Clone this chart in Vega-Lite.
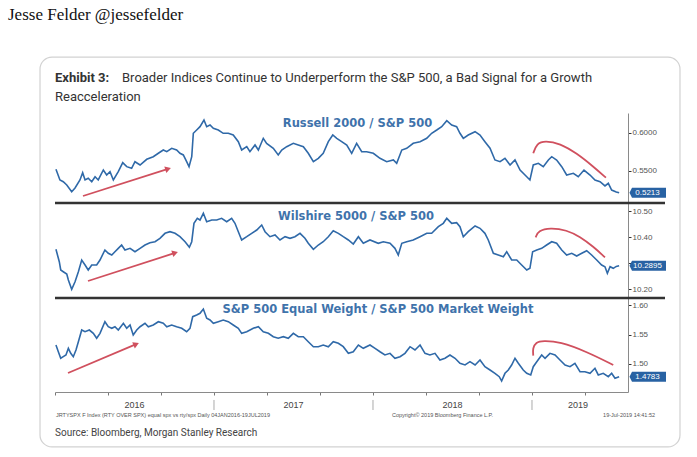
{
"$schema": "https://vega.github.io/schema/vega-lite/v6.json",
"width": 697, "height": 457, "autosize": {"type": "none"}, "padding": 0,
"background": "white",
"config": {"view": {"stroke": null}, "axis": {"grid": false}},
"datasets": {
"r2k": [{"year":2016.006,"ratio":0.5522},{"year":2016.031,"ratio":0.5382},{"year":2016.052,"ratio":0.5359},{"year":2016.074,"ratio":0.5316},{"year":2016.105,"ratio":0.5228},{"year":2016.126,"ratio":0.5276},{"year":2016.157,"ratio":0.5382},{"year":2016.174,"ratio":0.5478},{"year":2016.189,"ratio":0.5382},{"year":2016.209,"ratio":0.5404},{"year":2016.231,"ratio":0.5359},{"year":2016.252,"ratio":0.5425},{"year":2016.272,"ratio":0.5382},{"year":2016.304,"ratio":0.5513},{"year":2016.325,"ratio":0.5447},{"year":2016.346,"ratio":0.5491},{"year":2016.367,"ratio":0.5382},{"year":2016.398,"ratio":0.5491},{"year":2016.426,"ratio":0.5609},{"year":2016.451,"ratio":0.5557},{"year":2016.482,"ratio":0.5536},{"year":2016.503,"ratio":0.5622},{"year":2016.535,"ratio":0.5579},{"year":2016.577,"ratio":0.5654},{"year":2016.618,"ratio":0.5688},{"year":2016.650,"ratio":0.5733},{"year":2016.681,"ratio":0.5776},{"year":2016.703,"ratio":0.5754},{"year":2016.734,"ratio":0.5799},{"year":2016.765,"ratio":0.5776},{"year":2016.786,"ratio":0.5733},{"year":2016.807,"ratio":0.5711},{"year":2016.828,"ratio":0.5622},{"year":2016.843,"ratio":0.5557},{"year":2016.860,"ratio":0.5688},{"year":2016.870,"ratio":0.5996},{"year":2016.891,"ratio":0.6039},{"year":2016.912,"ratio":0.6083},{"year":2016.937,"ratio":0.6171},{"year":2016.954,"ratio":0.6083},{"year":2016.975,"ratio":0.6105},{"year":2016.996,"ratio":0.6062},{"year":2017.027,"ratio":0.6039},{"year":2017.058,"ratio":0.5996},{"year":2017.090,"ratio":0.5996},{"year":2017.121,"ratio":0.5974},{"year":2017.153,"ratio":0.5886},{"year":2017.174,"ratio":0.5776},{"year":2017.206,"ratio":0.5820},{"year":2017.226,"ratio":0.5754},{"year":2017.258,"ratio":0.5842},{"year":2017.279,"ratio":0.5776},{"year":2017.310,"ratio":0.5930},{"year":2017.331,"ratio":0.5864},{"year":2017.373,"ratio":0.5799},{"year":2017.404,"ratio":0.5711},{"year":2017.426,"ratio":0.5776},{"year":2017.457,"ratio":0.5820},{"year":2017.499,"ratio":0.5864},{"year":2017.530,"ratio":0.5842},{"year":2017.562,"ratio":0.5820},{"year":2017.593,"ratio":0.5733},{"year":2017.625,"ratio":0.5622},{"year":2017.656,"ratio":0.5667},{"year":2017.687,"ratio":0.5733},{"year":2017.719,"ratio":0.5886},{"year":2017.747,"ratio":0.5974},{"year":2017.772,"ratio":0.5930},{"year":2017.803,"ratio":0.5886},{"year":2017.835,"ratio":0.5842},{"year":2017.866,"ratio":0.5733},{"year":2017.897,"ratio":0.5864},{"year":2017.929,"ratio":0.5754},{"year":2017.960,"ratio":0.5754},{"year":2018.002,"ratio":0.5733},{"year":2018.044,"ratio":0.5667},{"year":2018.086,"ratio":0.5622},{"year":2018.128,"ratio":0.5645},{"year":2018.149,"ratio":0.5601},{"year":2018.181,"ratio":0.5776},{"year":2018.212,"ratio":0.5799},{"year":2018.253,"ratio":0.5864},{"year":2018.296,"ratio":0.5886},{"year":2018.338,"ratio":0.5930},{"year":2018.369,"ratio":0.5996},{"year":2018.401,"ratio":0.6039},{"year":2018.432,"ratio":0.6083},{"year":2018.464,"ratio":0.6162},{"year":2018.495,"ratio":0.6105},{"year":2018.526,"ratio":0.6083},{"year":2018.547,"ratio":0.5996},{"year":2018.568,"ratio":0.5930},{"year":2018.599,"ratio":0.5974},{"year":2018.642,"ratio":0.6017},{"year":2018.673,"ratio":0.5974},{"year":2018.704,"ratio":0.5886},{"year":2018.736,"ratio":0.5799},{"year":2018.767,"ratio":0.5645},{"year":2018.799,"ratio":0.5622},{"year":2018.830,"ratio":0.5667},{"year":2018.862,"ratio":0.5579},{"year":2018.893,"ratio":0.5645},{"year":2018.925,"ratio":0.5513},{"year":2018.967,"ratio":0.5425},{"year":2018.987,"ratio":0.5382},{"year":2019.008,"ratio":0.5579},{"year":2019.040,"ratio":0.5601},{"year":2019.071,"ratio":0.5557},{"year":2019.103,"ratio":0.5645},{"year":2019.124,"ratio":0.5688},{"year":2019.155,"ratio":0.5645},{"year":2019.187,"ratio":0.5557},{"year":2019.218,"ratio":0.5447},{"year":2019.260,"ratio":0.5470},{"year":2019.291,"ratio":0.5425},{"year":2019.327,"ratio":0.5513},{"year":2019.365,"ratio":0.5447},{"year":2019.396,"ratio":0.5382},{"year":2019.428,"ratio":0.5359},{"year":2019.459,"ratio":0.5303},{"year":2019.480,"ratio":0.5338},{"year":2019.501,"ratio":0.5250},{"year":2019.530,"ratio":0.5225},{"year":2019.548,"ratio":0.5213}],
"w5k": [{"year":2016.006,"ratio":10.3527},{"year":2016.027,"ratio":10.305},{"year":2016.036,"ratio":10.2731},{"year":2016.052,"ratio":10.2665},{"year":2016.074,"ratio":10.2577},{"year":2016.084,"ratio":10.2346},{"year":2016.105,"ratio":10.1988},{"year":2016.126,"ratio":10.2281},{"year":2016.147,"ratio":10.2665},{"year":2016.168,"ratio":10.3115},{"year":2016.189,"ratio":10.2923},{"year":2016.209,"ratio":10.2731},{"year":2016.231,"ratio":10.2923},{"year":2016.262,"ratio":10.2923},{"year":2016.283,"ratio":10.3115},{"year":2016.314,"ratio":10.35},{"year":2016.335,"ratio":10.3373},{"year":2016.357,"ratio":10.3308},{"year":2016.377,"ratio":10.3435},{"year":2016.398,"ratio":10.3565},{"year":2016.419,"ratio":10.3692},{"year":2016.440,"ratio":10.35},{"year":2016.472,"ratio":10.3565},{"year":2016.503,"ratio":10.3435},{"year":2016.535,"ratio":10.3565},{"year":2016.566,"ratio":10.3692},{"year":2016.597,"ratio":10.3781},{"year":2016.629,"ratio":10.3819},{"year":2016.660,"ratio":10.395},{"year":2016.692,"ratio":10.4142},{"year":2016.723,"ratio":10.4204},{"year":2016.755,"ratio":10.4142},{"year":2016.786,"ratio":10.4012},{"year":2016.818,"ratio":10.3819},{"year":2016.845,"ratio":10.3604},{"year":2016.860,"ratio":10.3819},{"year":2016.874,"ratio":10.4527},{"year":2016.895,"ratio":10.4719},{"year":2016.912,"ratio":10.4654},{"year":2016.933,"ratio":10.4912},{"year":2016.954,"ratio":10.4588},{"year":2016.986,"ratio":10.4654},{"year":2017.017,"ratio":10.4654},{"year":2017.048,"ratio":10.4719},{"year":2017.080,"ratio":10.4588},{"year":2017.111,"ratio":10.4719},{"year":2017.132,"ratio":10.4527},{"year":2017.153,"ratio":10.4204},{"year":2017.174,"ratio":10.3885},{"year":2017.206,"ratio":10.4012},{"year":2017.237,"ratio":10.4142},{"year":2017.269,"ratio":10.4269},{"year":2017.300,"ratio":10.4462},{"year":2017.321,"ratio":10.4204},{"year":2017.352,"ratio":10.4012},{"year":2017.384,"ratio":10.4077},{"year":2017.415,"ratio":10.3885},{"year":2017.447,"ratio":10.4012},{"year":2017.478,"ratio":10.395},{"year":2017.509,"ratio":10.4012},{"year":2017.541,"ratio":10.4142},{"year":2017.572,"ratio":10.395},{"year":2017.593,"ratio":10.3758},{"year":2017.625,"ratio":10.3527},{"year":2017.656,"ratio":10.3692},{"year":2017.687,"ratio":10.3819},{"year":2017.719,"ratio":10.4012},{"year":2017.750,"ratio":10.4242},{"year":2017.782,"ratio":10.4142},{"year":2017.813,"ratio":10.4012},{"year":2017.845,"ratio":10.3885},{"year":2017.876,"ratio":10.3731},{"year":2017.908,"ratio":10.4012},{"year":2017.939,"ratio":10.3758},{"year":2017.981,"ratio":10.3885},{"year":2018.033,"ratio":10.3758},{"year":2018.065,"ratio":10.3819},{"year":2018.107,"ratio":10.3758},{"year":2018.138,"ratio":10.3565},{"year":2018.159,"ratio":10.3308},{"year":2018.181,"ratio":10.3758},{"year":2018.212,"ratio":10.3819},{"year":2018.253,"ratio":10.3885},{"year":2018.296,"ratio":10.4012},{"year":2018.338,"ratio":10.4142},{"year":2018.369,"ratio":10.4142},{"year":2018.411,"ratio":10.4396},{"year":2018.442,"ratio":10.4527},{"year":2018.464,"ratio":10.4719},{"year":2018.495,"ratio":10.4527},{"year":2018.526,"ratio":10.455},{"year":2018.547,"ratio":10.4396},{"year":2018.568,"ratio":10.4012},{"year":2018.599,"ratio":10.4204},{"year":2018.642,"ratio":10.4423},{"year":2018.673,"ratio":10.4335},{"year":2018.704,"ratio":10.4142},{"year":2018.725,"ratio":10.3885},{"year":2018.757,"ratio":10.3373},{"year":2018.788,"ratio":10.3308},{"year":2018.820,"ratio":10.3242},{"year":2018.841,"ratio":10.3435},{"year":2018.872,"ratio":10.3115},{"year":2018.904,"ratio":10.3115},{"year":2018.935,"ratio":10.2923},{"year":2018.967,"ratio":10.2731},{"year":2018.987,"ratio":10.2796},{"year":2019.004,"ratio":10.3435},{"year":2019.030,"ratio":10.35},{"year":2019.061,"ratio":10.3565},{"year":2019.092,"ratio":10.3692},{"year":2019.124,"ratio":10.3819},{"year":2019.155,"ratio":10.3758},{"year":2019.187,"ratio":10.35},{"year":2019.218,"ratio":10.3308},{"year":2019.250,"ratio":10.3373},{"year":2019.281,"ratio":10.3269},{"year":2019.313,"ratio":10.3373},{"year":2019.344,"ratio":10.3473},{"year":2019.375,"ratio":10.3308},{"year":2019.407,"ratio":10.3115},{"year":2019.438,"ratio":10.2923},{"year":2019.459,"ratio":10.2858},{"year":2019.474,"ratio":10.2604},{"year":2019.491,"ratio":10.2858},{"year":2019.511,"ratio":10.2796},{"year":2019.530,"ratio":10.2870},{"year":2019.548,"ratio":10.2895}],
"ew": [{"year":2016.006,"ratio":1.5322},{"year":2016.021,"ratio":1.5208},{"year":2016.036,"ratio":1.5097},{"year":2016.052,"ratio":1.5124},{"year":2016.069,"ratio":1.5153},{"year":2016.084,"ratio":1.5266},{"year":2016.099,"ratio":1.5181},{"year":2016.115,"ratio":1.5124},{"year":2016.132,"ratio":1.5237},{"year":2016.147,"ratio":1.5378},{"year":2016.168,"ratio":1.5576},{"year":2016.189,"ratio":1.5547},{"year":2016.216,"ratio":1.5576},{"year":2016.241,"ratio":1.5520},{"year":2016.262,"ratio":1.5436},{"year":2016.283,"ratio":1.5520},{"year":2016.314,"ratio":1.5717},{"year":2016.335,"ratio":1.5632},{"year":2016.357,"ratio":1.5605},{"year":2016.377,"ratio":1.5632},{"year":2016.398,"ratio":1.5576},{"year":2016.430,"ratio":1.5690},{"year":2016.451,"ratio":1.5605},{"year":2016.472,"ratio":1.5661},{"year":2016.492,"ratio":1.5492},{"year":2016.514,"ratio":1.5576},{"year":2016.535,"ratio":1.5632},{"year":2016.566,"ratio":1.5690},{"year":2016.587,"ratio":1.5632},{"year":2016.618,"ratio":1.5661},{"year":2016.650,"ratio":1.5717},{"year":2016.681,"ratio":1.5690},{"year":2016.703,"ratio":1.5632},{"year":2016.734,"ratio":1.5661},{"year":2016.765,"ratio":1.5632},{"year":2016.797,"ratio":1.5605},{"year":2016.828,"ratio":1.5547},{"year":2016.849,"ratio":1.5605},{"year":2016.866,"ratio":1.5802},{"year":2016.891,"ratio":1.5831},{"year":2016.912,"ratio":1.5859},{"year":2016.933,"ratio":1.5932},{"year":2016.954,"ratio":1.5775},{"year":2016.975,"ratio":1.5746},{"year":2016.996,"ratio":1.5690},{"year":2017.027,"ratio":1.5717},{"year":2017.058,"ratio":1.5746},{"year":2017.090,"ratio":1.5717},{"year":2017.121,"ratio":1.5661},{"year":2017.153,"ratio":1.5605},{"year":2017.174,"ratio":1.5520},{"year":2017.206,"ratio":1.5547},{"year":2017.247,"ratio":1.5605},{"year":2017.279,"ratio":1.5632},{"year":2017.310,"ratio":1.5547},{"year":2017.342,"ratio":1.5520},{"year":2017.373,"ratio":1.5463},{"year":2017.404,"ratio":1.5436},{"year":2017.436,"ratio":1.5463},{"year":2017.467,"ratio":1.5436},{"year":2017.499,"ratio":1.5520},{"year":2017.530,"ratio":1.5463},{"year":2017.562,"ratio":1.5463},{"year":2017.593,"ratio":1.5378},{"year":2017.625,"ratio":1.5293},{"year":2017.656,"ratio":1.5293},{"year":2017.687,"ratio":1.5322},{"year":2017.719,"ratio":1.5293},{"year":2017.750,"ratio":1.5378},{"year":2017.782,"ratio":1.5351},{"year":2017.813,"ratio":1.5293},{"year":2017.845,"ratio":1.5181},{"year":2017.876,"ratio":1.5208},{"year":2017.908,"ratio":1.5322},{"year":2017.939,"ratio":1.5266},{"year":2017.981,"ratio":1.5322},{"year":2018.013,"ratio":1.5266},{"year":2018.044,"ratio":1.5208},{"year":2018.075,"ratio":1.5153},{"year":2018.107,"ratio":1.5181},{"year":2018.138,"ratio":1.5097},{"year":2018.170,"ratio":1.5124},{"year":2018.201,"ratio":1.5181},{"year":2018.233,"ratio":1.5293},{"year":2018.264,"ratio":1.5237},{"year":2018.296,"ratio":1.5322},{"year":2018.327,"ratio":1.5181},{"year":2018.358,"ratio":1.5153},{"year":2018.390,"ratio":1.5181},{"year":2018.421,"ratio":1.5068},{"year":2018.453,"ratio":1.5097},{"year":2018.484,"ratio":1.5153},{"year":2018.516,"ratio":1.5097},{"year":2018.547,"ratio":1.5012},{"year":2018.579,"ratio":1.4983},{"year":2018.610,"ratio":1.5039},{"year":2018.642,"ratio":1.4983},{"year":2018.673,"ratio":1.5068},{"year":2018.704,"ratio":1.4954},{"year":2018.736,"ratio":1.4898},{"year":2018.767,"ratio":1.4842},{"year":2018.794,"ratio":1.4785},{"year":2018.809,"ratio":1.4712},{"year":2018.830,"ratio":1.4842},{"year":2018.851,"ratio":1.4898},{"year":2018.872,"ratio":1.4983},{"year":2018.893,"ratio":1.5097},{"year":2018.914,"ratio":1.5012},{"year":2018.945,"ratio":1.4898},{"year":2018.967,"ratio":1.4842},{"year":2018.992,"ratio":1.4814},{"year":2019.008,"ratio":1.4954},{"year":2019.030,"ratio":1.5039},{"year":2019.061,"ratio":1.5153},{"year":2019.082,"ratio":1.5097},{"year":2019.113,"ratio":1.5181},{"year":2019.145,"ratio":1.5153},{"year":2019.176,"ratio":1.5068},{"year":2019.208,"ratio":1.4983},{"year":2019.239,"ratio":1.4954},{"year":2019.270,"ratio":1.5012},{"year":2019.302,"ratio":1.4869},{"year":2019.333,"ratio":1.4869},{"year":2019.365,"ratio":1.4842},{"year":2019.396,"ratio":1.4927},{"year":2019.417,"ratio":1.4814},{"year":2019.448,"ratio":1.4842},{"year":2019.480,"ratio":1.4785},{"year":2019.501,"ratio":1.4842},{"year":2019.522,"ratio":1.4758},{"year":2019.548,"ratio":1.4783}],
"curve1": [{"i":0,"year":2019.008,"ratio":0.5733},{"i":1,"year":2019.030,"ratio":0.5864},{"i":2,"year":2019.082,"ratio":0.5899},{"i":3,"year":2019.176,"ratio":0.5864},{"i":4,"year":2019.281,"ratio":0.5733},{"i":5,"year":2019.386,"ratio":0.5557},{"i":6,"year":2019.465,"ratio":0.5412}],
"curve2": [{"i":0,"year":2019.023,"ratio":10.3988},{"i":1,"year":2019.040,"ratio":10.4242},{"i":2,"year":2019.113,"ratio":10.4358},{"i":3,"year":2019.218,"ratio":10.4269},{"i":4,"year":2019.302,"ratio":10.4012},{"i":5,"year":2019.386,"ratio":10.3627},{"i":6,"year":2019.459,"ratio":10.3219}],
"curve3": [{"i":0,"year":2019.008,"ratio":1.5141},{"i":1,"year":2019.004,"ratio":1.5266},{"i":2,"year":2019.025,"ratio":1.5368},{"i":3,"year":2019.067,"ratio":1.5395},{"i":4,"year":2019.176,"ratio":1.5378},{"i":5,"year":2019.344,"ratio":1.5208},{"i":6,"year":2019.511,"ratio":1.4983}],
"years": [{"year":2016.5,"label":"2016"},{"year":2017.5,"label":"2017"},{"year":2018.5,"label":"2018"},{"year":2019.289,"label":"2019"}],
"yearStarts": [{"year":2017},{"year":2018},{"year":2019}]
},
"resolve": {"scale": {"y": "independent"}, "axis": {"y": "independent"}},
"layer": [
{
"layer": [
{"data": {"name": "r2k"}, "mark": {"type": "line", "color": "#2f69a8", "strokeWidth": 1.6},
 "encoding": {
  "x": {"field": "year", "type": "quantitative", "scale": {"domain": [2016, 2019.6038], "range": [55, 628], "nice": false, "zero": false}},
  "y": {"field": "ratio", "type": "quantitative", "scale": {"domain": [0.5079, 0.6263], "range": [203, 113], "nice": false, "zero": false},
   "axis": {"orient": "right", "offset": -69, "title": null, "values": [0.55, 0.6], "format": ".4f", "domainColor": "#8a8a8a", "tickColor": "#333", "tickSize": 3, "labelFontSize": 8, "labelFont": "Liberation Sans", "labelColor": "#555", "labelPadding": 1}}}},
{"data": {"name": "curve1"}, "mark": {"type": "line", "color": "#d0505e", "strokeWidth": 1.8, "interpolate": "basis"},
 "encoding": {"x": {"field": "year", "type": "quantitative"}, "y": {"field": "ratio", "type": "quantitative"}, "order": {"field": "i"}}},
{"data": {"values": [{}]}, "mark": {"type": "rule", "color": "#d0505e", "strokeWidth": 1.8},
 "encoding": {"x": {"datum": 2016.176, "type": "quantitative"}, "y": {"datum": 0.5171, "type": "quantitative"}, "x2": {"datum": 2016.7113}, "y2": {"datum": 0.5528}}},
{"data": {"values": [{}]}, "mark": {"type": "point", "shape": "triangle-right", "filled": true, "size": 45, "color": "#d0505e", "opacity": 1, "angle": -17.6},
 "encoding": {"x": {"datum": 2016.7113, "type": "quantitative"}, "y": {"datum": 0.5528, "type": "quantitative"}}},
{"data": {"values": [{}]}, "mark": {"type": "point", "shape": "M-1.55,-0.5L1.85,-0.5L1.85,0.5L-1.55,0.5L-1.8,0Z", "filled": true, "size": 400, "color": "#2862a3", "opacity": 1},
 "encoding": {"x": {"datum": 2019.7264, "type": "quantitative"}, "y": {"datum": 0.5213, "type": "quantitative"}}},
{"data": {"values": [{}]}, "mark": {"type": "text", "color": "white", "fontSize": 8, "font": "Liberation Sans", "align": "center", "baseline": "middle"},
 "encoding": {"x": {"datum": 2019.7264, "type": "quantitative"}, "y": {"datum": 0.5213, "type": "quantitative"}, "text": {"value": "0.5213"}}},
{"data": {"values": [{}]}, "mark": {"type": "text", "color": "#3f73ab", "fontSize": 11.5, "font": "DejaVu Sans", "fontWeight": "bold", "align": "center", "baseline": "middle"},
 "encoding": {"x": {"datum": 2017.9025, "type": "quantitative"}, "y": {"datum": 0.6118, "type": "quantitative"}, "text": {"value": "Russell 2000 / S&P 500"}}}
]
},
{
"layer": [
{"data": {"name": "w5k"}, "mark": {"type": "line", "color": "#2f69a8", "strokeWidth": 1.6},
 "encoding": {
  "x": {"field": "year", "type": "quantitative", "scale": {"domain": [2016, 2019.6038], "range": [55, 628], "nice": false, "zero": false}},
  "y": {"field": "ratio", "type": "quantitative", "scale": {"domain": [10.1654, 10.5308], "range": [298, 203], "nice": false, "zero": false},
   "axis": {"orient": "right", "offset": -69, "title": null, "values": [10.2, 10.3, 10.4, 10.5], "labelExpr": "datum.value > 10.29 && datum.value < 10.31 ? '' : format(datum.value, '.2f')", "domainColor": "#8a8a8a", "tickColor": "#333", "tickSize": 3, "labelFontSize": 8, "labelFont": "Liberation Sans", "labelColor": "#555", "labelPadding": 1}}}},
{"data": {"name": "curve2"}, "mark": {"type": "line", "color": "#d0505e", "strokeWidth": 1.8, "interpolate": "basis"},
 "encoding": {"x": {"field": "year", "type": "quantitative"}, "y": {"field": "ratio", "type": "quantitative"}, "order": {"field": "i"}}},
{"data": {"values": [{}]}, "mark": {"type": "rule", "color": "#d0505e", "strokeWidth": 1.8},
 "encoding": {"x": {"datum": 2016.2075, "type": "quantitative"}, "y": {"datum": 10.2308, "type": "quantitative"}, "x2": {"datum": 2016.7553}, "y2": {"datum": 10.3388}}},
{"data": {"values": [{}]}, "mark": {"type": "point", "shape": "triangle-right", "filled": true, "size": 45, "color": "#d0505e", "opacity": 1, "angle": -17.9},
 "encoding": {"x": {"datum": 2016.7553, "type": "quantitative"}, "y": {"datum": 10.3388, "type": "quantitative"}}},
{"data": {"values": [{}]}, "mark": {"type": "rule", "color": "#333333", "strokeWidth": 2.5},
 "encoding": {"x": {"datum": 2016, "type": "quantitative"}, "x2": {"datum": 2019.8365}, "y": {"datum": 10.5308, "type": "quantitative"}}},
{"data": {"values": [{}]}, "mark": {"type": "rule", "color": "#333333", "strokeWidth": 2.5},
 "encoding": {"x": {"datum": 2016, "type": "quantitative"}, "x2": {"datum": 2019.8365}, "y": {"datum": 10.1654, "type": "quantitative"}}},
{"data": {"values": [{}]}, "mark": {"type": "point", "shape": "M-1.55,-0.5L1.85,-0.5L1.85,0.5L-1.55,0.5L-1.8,0Z", "filled": true, "size": 400, "color": "#2862a3", "opacity": 1},
 "encoding": {"x": {"datum": 2019.7264, "type": "quantitative"}, "y": {"datum": 10.2895, "type": "quantitative"}}},
{"data": {"values": [{}]}, "mark": {"type": "text", "color": "white", "fontSize": 8, "font": "Liberation Sans", "align": "center", "baseline": "middle"},
 "encoding": {"x": {"datum": 2019.7264, "type": "quantitative"}, "y": {"datum": 10.2895, "type": "quantitative"}, "text": {"value": "10.2895"}}},
{"data": {"values": [{}]}, "mark": {"type": "text", "color": "#3f73ab", "fontSize": 11.5, "font": "DejaVu Sans", "fontWeight": "bold", "align": "center", "baseline": "middle"},
 "encoding": {"x": {"datum": 2017.8931, "type": "quantitative"}, "y": {"datum": 10.4769, "type": "quantitative"}, "text": {"value": "Wilshire 5000 / S&P 500"}}}
]
},
{
"layer": [
{"data": {"name": "ew"}, "mark": {"type": "line", "color": "#2f69a8", "strokeWidth": 1.6},
 "encoding": {
  "x": {"field": "year", "type": "quantitative", "scale": {"domain": [2016, 2019.6038], "range": [55, 628], "nice": false, "zero": false},
   "axis": {"orient": "bottom", "offset": -65, "title": null, "labels": false, "domainColor": "#8a8a8a", "tickColor": "#777", "tickSize": 3, "values": [2016,2016.0833,2016.1667,2016.25,2016.3333,2016.4167,2016.5,2016.5833,2016.6667,2016.75,2016.8333,2016.9167,2017,2017.0833,2017.1667,2017.25,2017.3333,2017.4167,2017.5,2017.5833,2017.6667,2017.75,2017.8333,2017.9167,2018,2018.0833,2018.1667,2018.25,2018.3333,2018.4167,2018.5,2018.5833,2018.6667,2018.75,2018.8333,2018.9167,2019,2019.0833,2019.1667,2019.25,2019.3333,2019.4167,2019.5,2019.5833]}},
  "y": {"field": "ratio", "type": "quantitative", "scale": {"domain": [1.4525, 1.6119], "range": [392, 298], "nice": false, "zero": false},
   "axis": {"orient": "right", "offset": -69, "title": null, "values": [1.5, 1.55, 1.6], "format": ".2f", "domainColor": "#8a8a8a", "tickColor": "#333", "tickSize": 3, "labelFontSize": 8, "labelFont": "Liberation Sans", "labelColor": "#555", "labelPadding": 1}}}},
{"data": {"name": "curve3"}, "mark": {"type": "line", "color": "#d0505e", "strokeWidth": 1.8, "interpolate": "basis"},
 "encoding": {"x": {"field": "year", "type": "quantitative"}, "y": {"field": "ratio", "type": "quantitative"}, "order": {"field": "i"}}},
{"data": {"values": [{}]}, "mark": {"type": "rule", "color": "#d0505e", "strokeWidth": 1.8},
 "encoding": {"x": {"datum": 2016.0818, "type": "quantitative"}, "y": {"datum": 1.4847, "type": "quantitative"}, "x2": {"datum": 2016.5107}, "y2": {"datum": 1.5336}}},
{"data": {"values": [{}]}, "mark": {"type": "point", "shape": "triangle-right", "filled": true, "size": 45, "color": "#d0505e", "opacity": 1, "angle": -22.9},
 "encoding": {"x": {"datum": 2016.5107, "type": "quantitative"}, "y": {"datum": 1.5336, "type": "quantitative"}}},
{"data": {"values": [{}]}, "mark": {"type": "point", "shape": "M-1.55,-0.5L1.85,-0.5L1.85,0.5L-1.55,0.5L-1.8,0Z", "filled": true, "size": 400, "color": "#2862a3", "opacity": 1},
 "encoding": {"x": {"datum": 2019.7264, "type": "quantitative"}, "y": {"datum": 1.4783, "type": "quantitative"}}},
{"data": {"values": [{}]}, "mark": {"type": "text", "color": "white", "fontSize": 8, "font": "Liberation Sans", "align": "center", "baseline": "middle"},
 "encoding": {"x": {"datum": 2019.7264, "type": "quantitative"}, "y": {"datum": 1.4783, "type": "quantitative"}, "text": {"value": "1.4783"}}},
{"data": {"values": [{}]}, "mark": {"type": "text", "color": "#3f73ab", "fontSize": 11.5, "font": "DejaVu Sans", "fontWeight": "bold", "align": "center", "baseline": "middle"},
 "encoding": {"x": {"datum": 2018.0314, "type": "quantitative"}, "y": {"datum": 1.5915, "type": "quantitative"}, "text": {"value": "S&P 500 Equal Weight / S&P 500 Market Weight"}}},
{"data": {"name": "years"}, "mark": {"type": "text", "color": "#444", "fontSize": 9, "font": "Liberation Sans", "align": "center", "baseline": "middle"},
 "encoding": {"x": {"field": "year", "type": "quantitative"}, "y": {"datum": 1.4305, "type": "quantitative"}, "text": {"field": "label"}}},
{"data": {"name": "yearStarts"}, "mark": {"type": "rule", "color": "#aaaaaa", "strokeWidth": 1},
 "encoding": {"x": {"field": "year", "type": "quantitative"}, "y": {"datum": 1.4390, "type": "quantitative"}, "y2": {"datum": 1.4220}}},
{"data": {"values": [{}]}, "mark": {"type": "text", "color": "#555", "fontSize": 5.5, "font": "Liberation Sans", "align": "left", "baseline": "middle"},
 "encoding": {"x": {"datum": 2016.006, "type": "quantitative"}, "y": {"datum": 1.4136, "type": "quantitative"}, "text": {"value": "JRTYSPX F Index (RTY OVER SPX) equal spx vs rty/spx  Daily 04JAN2016-19JUL2019"}}},
{"data": {"values": [{}]}, "mark": {"type": "text", "color": "#555", "fontSize": 5.5, "font": "Liberation Sans", "align": "left", "baseline": "middle"},
 "encoding": {"x": {"datum": 2018.119, "type": "quantitative"}, "y": {"datum": 1.4136, "type": "quantitative"}, "text": {"value": "Copyright© 2019 Bloomberg Finance L.P."}}},
{"data": {"values": [{}]}, "mark": {"type": "text", "color": "#555", "fontSize": 5.5, "font": "Liberation Sans", "align": "left", "baseline": "middle"},
 "encoding": {"x": {"datum": 2019.447, "type": "quantitative"}, "y": {"datum": 1.4136, "type": "quantitative"}, "text": {"value": "19-Jul-2019 14:41:52"}}},
{"data": {"values": [{}]}, "mark": {"type": "text", "color": "#444", "fontSize": 10, "font": "Roboto", "align": "left", "baseline": "middle"},
 "encoding": {"x": {"datum": 2016, "type": "quantitative"}, "y": {"datum": 1.3831, "type": "quantitative"}, "text": {"value": "Source: Bloomberg, Morgan Stanley Research"}}},
{"data": {"values": [{}]}, "mark": {"type": "text", "color": "#333", "fontSize": 13, "font": "Roboto", "fontWeight": "bold", "align": "left", "baseline": "middle"},
 "encoding": {"x": {"datum": 2016, "type": "quantitative"}, "y": {"datum": 1.9847, "type": "quantitative"}, "text": {"value": "Exhibit 3:"}}},
{"data": {"values": [{}]}, "mark": {"type": "text", "color": "#333", "fontSize": 13, "font": "Roboto", "align": "left", "baseline": "middle"},
 "encoding": {"x": {"datum": 2016.4214, "type": "quantitative"}, "y": {"datum": 1.9847, "type": "quantitative"}, "text": {"value": "Broader Indices Continue to Underperform the S&P 500, a Bad Signal for a Growth"}}},
{"data": {"values": [{}]}, "mark": {"type": "text", "color": "#333", "fontSize": 13, "font": "Roboto", "align": "left", "baseline": "middle"},
 "encoding": {"x": {"datum": 2016, "type": "quantitative"}, "y": {"datum": 1.9525, "type": "quantitative"}, "text": {"value": "Reacceleration"}}},
{"data": {"values": [{}]}, "mark": {"type": "text", "color": "#111", "fontSize": 17, "font": "Liberation Serif", "align": "left", "baseline": "middle"},
 "encoding": {"x": {"datum": 2015.7044, "type": "quantitative"}, "y": {"datum": 2.0915, "type": "quantitative"}, "text": {"value": "Jesse Felder @jessefelder"}}},
{"data": {"values": [{}]}, "mark": {"type": "rect", "fill": null, "stroke": "#d2d2d2", "strokeWidth": 1.2, "cornerRadius": 12},
 "encoding": {"x": {"datum": 2015.9057, "type": "quantitative"}, "x2": {"datum": 2019.9308}, "y": {"datum": 2.0203, "type": "quantitative"}, "y2": {"datum": 1.3593}}}
]
}
]
}
